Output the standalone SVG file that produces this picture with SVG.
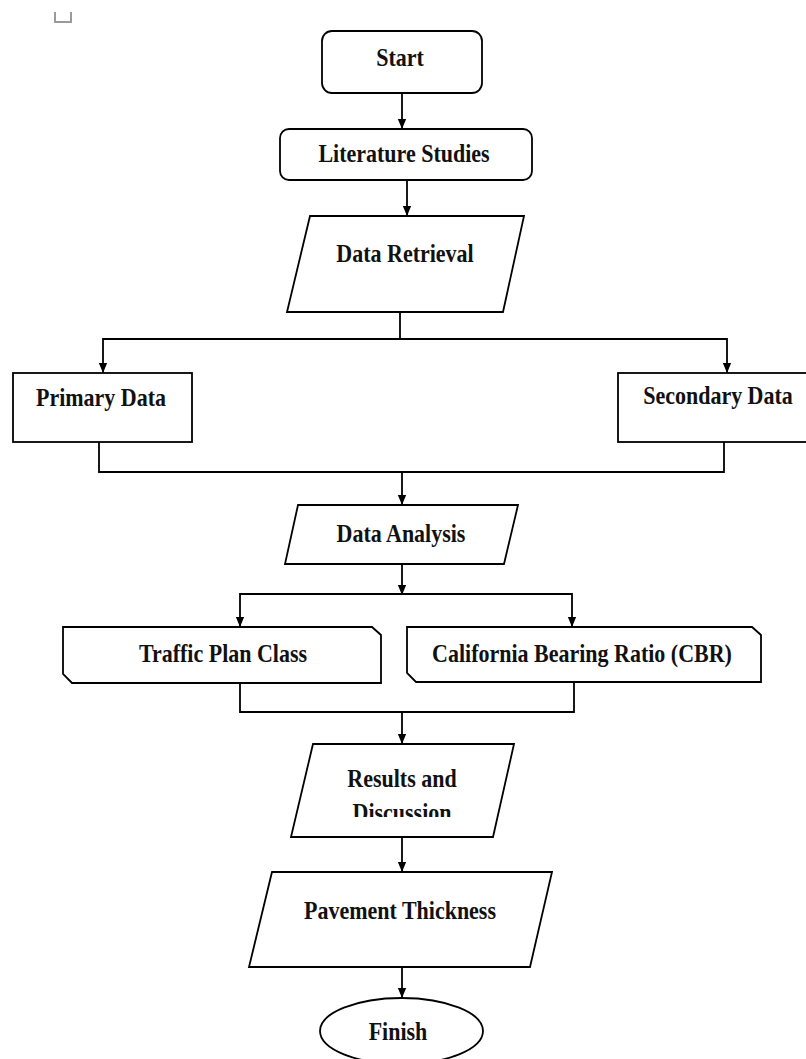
<svg xmlns="http://www.w3.org/2000/svg" width="806" height="1059" viewBox="0 0 806 1059">
<style>
.box{fill:#fff;stroke:#000;stroke-width:1.8}
.lbl{font-family:"Liberation Serif","Times New Roman",serif;font-weight:bold;font-size:22px;fill:#111;text-anchor:middle}
.con{fill:none;stroke:#000;stroke-width:1.8}
.arr{fill:none;stroke:#000;stroke-width:1.8;marker-end:url(#ah)}
</style>
<defs>
<marker id="ah" markerUnits="userSpaceOnUse" markerWidth="10" markerHeight="12" viewBox="0 0 12 10" refX="12" refY="5" orient="auto">
<path d="M0,0 L12,5 L0,10 z" fill="#000"/>
</marker>
<clipPath id="clipRes"><rect x="280" y="740" width="240" height="77"/></clipPath>
</defs>
<rect width="806" height="1059" fill="#fff"/>
<path d="M55,12 V22 H71 V12" fill="none" stroke="#9a9a9a" stroke-width="2"/>

<g id="start">
<rect class="box" x="322" y="31" width="160" height="62" rx="10"/>
<text class="lbl" transform="translate(400,66) scale(1,1.15)">Start</text>
</g>
<g id="literature">
<rect class="box" x="280" y="129" width="252" height="51" rx="9"/>
<text class="lbl" transform="translate(404,162) scale(1,1.15)">Literature Studies</text>
</g>
<g id="retrieval">
<polygon class="box" points="310,216 524,216 503,312 287,312"/>
<text class="lbl" transform="translate(405,262) scale(1,1.15)">Data Retrieval</text>
</g>
<g id="primary">
<rect class="box" x="13" y="373" width="179" height="69"/>
<text class="lbl" transform="translate(101,406) scale(1,1.15)">Primary Data</text>
</g>
<g id="secondary">
<rect class="box" x="618" y="373" width="195" height="69"/>
<text class="lbl" transform="translate(718,404) scale(1,1.15)">Secondary Data</text>
</g>
<g id="analysis">
<polygon class="box" points="298,505 518,505 504,564 285,564"/>
<text class="lbl" transform="translate(401,542) scale(1,1.15)">Data Analysis</text>
</g>
<g id="traffic">
<polygon class="box" points="63,627 372,627 381,635 381,683 72,683 63,674"/>
<text class="lbl" transform="translate(223,662) scale(1,1.15)">Traffic Plan Class</text>
</g>
<g id="cbr">
<polygon class="box" points="407,627 752,627 761,635 761,682 416,682 407,673"/>
<text class="lbl" transform="translate(582,662) scale(1,1.15)">California Bearing Ratio (CBR)</text>
</g>
<g id="results">
<polygon class="box" points="313,744 514,744 493,837 291,837"/>
<text class="lbl" transform="translate(402,787) scale(1,1.15)">Results and</text>
<g clip-path="url(#clipRes)">
<text class="lbl" transform="translate(402,821) scale(1,1.15)">Discussion</text>
</g>
</g>
<g id="pavement">
<polygon class="box" points="272,872 552,872 530,967 249,967"/>
<text class="lbl" transform="translate(400,919) scale(1,1.15)">Pavement Thickness</text>
</g>
<g id="finish">
<ellipse class="box" cx="401.5" cy="1031" rx="81.5" ry="33"/>
<text class="lbl" transform="translate(398,1040) scale(1,1.15)">Finish</text>
</g>

<g id="connectors">
<line class="arr" x1="402" y1="93" x2="402" y2="129"/>
<line class="arr" x1="407" y1="180" x2="407" y2="216"/>
<polyline class="con" points="400,312 400,339"/>
<polyline class="arr" points="400,339 103,339 103,373"/>
<polyline class="arr" points="400,339 727,339 727,373"/>
<polyline class="con" points="99,442 99,472 724,472 724,442"/>
<line class="arr" x1="402" y1="472" x2="402" y2="505"/>
<line class="arr" x1="402" y1="564" x2="402" y2="595"/>
<polyline class="arr" points="402,594 240,594 240,627"/>
<polyline class="arr" points="402,594 572,594 572,627"/>
<polyline class="con" points="240,683 240,712 574,712 574,682"/>
<line class="arr" x1="402" y1="712" x2="402" y2="744"/>
<line class="arr" x1="402" y1="837" x2="402" y2="872"/>
<line class="arr" x1="402" y1="967" x2="402" y2="998"/>
</g>
</svg>
